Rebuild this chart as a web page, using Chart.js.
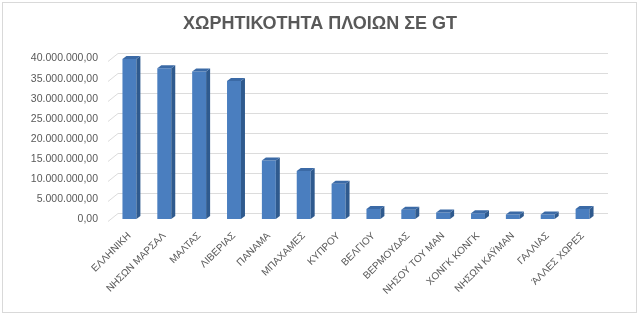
<!DOCTYPE html>
<html>
<head>
<meta charset="utf-8">
<script src="https://cdn.jsdelivr.net/npm/chart.js@4"></script>
<style>
  html, body { margin: 0; padding: 0; background: #ffffff; }
  #wrap { width: 640px; height: 316px; position: relative; }
</style>
</head>
<body>
<div id="wrap"><canvas id="c"></canvas></div>
<script>
const categories = [
  "ΕΛΛΗΝΙΚΗ", "ΝΗΣΩΝ ΜΑΡΣΑΛ", "ΜΑΛΤΑΣ", "ΛΙΒΕΡΙΑΣ", "ΠΑΝΑΜΑ", "ΜΠΑΧΑΜΕΣ", "ΚΥΠΡΟΥ",
  "ΒΕΛΓΙΟΥ", "ΒΕΡΜΟΥΔΑΣ", "ΝΗΣΟΥ ΤΟΥ ΜΑΝ", "ΧΟΝΓΚ ΚΟΝΓΚ", "ΝΗΣΩΝ ΚΑΫΜΑΝ", "ΓΑΛΛΙΑΣ", "ΆΛΛΕΣ ΧΩΡΕΣ"
];
const tonnageGT = [
  39900000, 37600000, 36800000, 34400000, 14600000, 12000000, 8800000,
  2500000, 2300000, 1650000, 1450000, 1150000, 1100000, 2500000
];
const yTickValues = [0, 5000000, 10000000, 15000000, 20000000, 25000000, 30000000, 35000000, 40000000];
const chartTitle = "ΧΩΡΗΤΙΚΟΤΗΤΑ ΠΛΟΙΩΝ ΣΕ GT";

function formatGreek(v) {
  const intPart = Math.round(v).toString().replace(/\B(?=(\d{3})+(?!\d))/g, ".");
  return intPart + ",00";
}

const FRONT = "#4a7ebf";
const SIDE = "#2f5a8e";
const TOP = "#3b6aa6";
const GRID = "#dcdcdc";
const TEXT = "#595959";
const DX = 4, DY = 3;      // bar depth
const WX = 8, WY = 6;      // wall depth

const wallPlugin = {
  id: "wall",
  beforeDatasetsDraw(chart) {
    const ctx = chart.ctx;
    const y = chart.scales.y;
    const area = chart.chartArea;
    ctx.save();
    ctx.strokeStyle = GRID;
    ctx.lineWidth = 1;
    yTickValues.forEach(v => {
      const py = Math.round(y.getPixelForValue(v)) + 0.5;
      ctx.beginPath();
      ctx.moveTo(area.left - 4, py + 2);
      ctx.lineTo(area.left + WX - 2, py - WY);
      ctx.lineTo(area.right + WX, py - WY);
      ctx.stroke();
    });
    ctx.restore();
  },
  afterDatasetsDraw(chart) {
    const ctx = chart.ctx;
    const meta = chart.getDatasetMeta(0);
    ctx.save();
    meta.data.forEach(bar => {
      const p = bar.getProps(["x", "y", "base", "width"], true);
      const l = p.x - p.width / 2, r = p.x + p.width / 2;
      const top = p.y, base = p.base;
      ctx.fillStyle = SIDE;
      ctx.beginPath();
      ctx.moveTo(r, top);
      ctx.lineTo(r + DX, top - DY);
      ctx.lineTo(r + DX, base - DY);
      ctx.lineTo(r, base);
      ctx.closePath();
      ctx.fill();
      ctx.fillStyle = TOP;
      ctx.beginPath();
      ctx.moveTo(l, top);
      ctx.lineTo(l + DX, top - DY);
      ctx.lineTo(r + DX, top - DY);
      ctx.lineTo(r, top);
      ctx.closePath();
      ctx.fill();
    });
    ctx.restore();
  },
  afterDraw(chart) {
    const ctx = chart.ctx;
    ctx.save();
    ctx.strokeStyle = "#d9d9d9";
    ctx.lineWidth = 1;
    ctx.strokeRect(2.5, 2.5, 634, 310);
    ctx.restore();
  }
};

new Chart(document.getElementById("c"), {
  type: "bar",
  data: {
    labels: categories,
    datasets: [{
      data: tonnageGT,
      backgroundColor: FRONT,
      borderWidth: 0,
      categoryPercentage: 1,
      barPercentage: 0.4
    }]
  },
  plugins: [wallPlugin],
  options: {
    responsive: true,
    maintainAspectRatio: false,
    animation: false,
    layout: { padding: { left: 26, right: 26, top: 0, bottom: 0 } },
    plugins: {
      legend: { display: false },
      tooltip: { enabled: false },
      title: {
        display: true,
        text: chartTitle,
        color: TEXT,
        font: { family: "Liberation Sans", size: 18, weight: "bold" },
        padding: { top: 13, bottom: 24 }
      }
    },
    scales: {
      x: {
        grid: { display: false, drawTicks: false },
        border: { display: false },
        ticks: {
          color: TEXT,
          font: { family: "Liberation Sans", size: 10 },
          minRotation: 45,
          maxRotation: 45,
          autoSkip: false,
          padding: 11
        },
        afterFit(scale) { scale.height = 97; }
      },
      y: {
        min: 0,
        max: 40000000,
        grid: { display: false, drawTicks: false },
        border: { display: false },
        afterBuildTicks(scale) { scale.ticks = yTickValues.map(v => ({ value: v })); },
        ticks: {
          color: TEXT,
          font: { family: "Liberation Sans", size: 10.5 },
          padding: 14,
          callback: v => formatGreek(v)
        },
        afterFit(scale) { scale.width = 86; }
      },
      yRight: {
        position: "right",
        min: 0,
        max: 40000000,
        grid: { display: false, drawTicks: false },
        border: { display: false },
        ticks: { display: false },
        afterFit(scale) { scale.width = 14; }
      }
    }
  }
});
</script>
</body>
</html>
